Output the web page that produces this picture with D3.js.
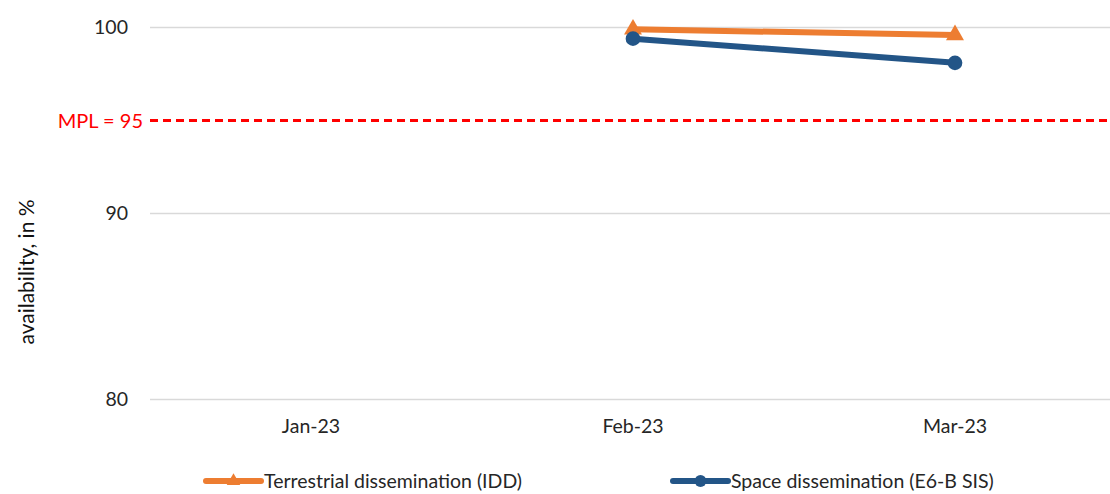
<!DOCTYPE html>
<html>
<head>
<meta charset="utf-8">
<script src="https://cdn.jsdelivr.net/npm/d3@7"></script>
<style>
  html, body { margin: 0; padding: 0; background: #fff; }
  svg { display: block; font-family: Lato, "Open Sans", sans-serif; }
</style>
</head>
<body>
<svg id="chart" width="1110" height="494"></svg>
<script>
// Monthly availability figures
const months = ["Jan-23", "Feb-23", "Mar-23"];
const terrestrial = [null, 99.9, 99.6];
const space = [null, 99.4, 98.1];
const yTicks = [80, 90, 100];
const mplValue = 95;
const seriesNames = ["Terrestrial dissemination (IDD)", "Space dissemination (E6-B SIS)"];

const svg = d3.select("#chart");
const W = 1110, H = 494;
const plot = { left: 150, right: 1116, top: 27.5, bottom: 399.5 };
const fontSize = 19.5;

const x = d3.scaleBand().domain(months).range([plot.left, plot.right]);
const y = d3.scaleLinear().domain([80, 100]).range([plot.bottom, plot.top]);

// Horizontal gridlines
svg.append("g")
  .selectAll("line")
  .data(yTicks)
  .join("line")
  .attr("x1", plot.left).attr("x2", W)
  .attr("y1", d => y(d)).attr("y2", d => y(d))
  .attr("stroke", "#d9d9d9").attr("stroke-width", 1.3);

// Y axis tick labels
const yAxis = d3.axisLeft(y).tickValues(yTicks).tickSize(0).tickPadding(22);
svg.append("g")
  .attr("transform", `translate(${plot.left},0)`)
  .call(yAxis)
  .call(g => g.select(".domain").remove())
  .call(g => g.selectAll("text")
    .attr("font-size", fontSize).attr("fill", "#262626")
    .attr("font-family", "Lato, 'Open Sans', sans-serif"));

// X axis labels
const xAxis = d3.axisBottom(x).tickSize(0).tickPadding(20);
svg.append("g")
  .attr("transform", `translate(0,${plot.bottom})`)
  .call(xAxis)
  .call(g => g.select(".domain").remove())
  .call(g => g.selectAll("text")
    .attr("font-size", fontSize).attr("fill", "#262626")
    .attr("font-family", "Lato, 'Open Sans', sans-serif"));

// Y axis title
svg.append("text")
  .attr("transform", `translate(34,${272}) rotate(-90)`)
  .attr("text-anchor", "middle")
  .attr("font-size", 21)
  .attr("fill", "#111")
  .text("availability, in %");

// Minimum performance level line
svg.append("line")
  .attr("x1", plot.left).attr("x2", W)
  .attr("y1", y(mplValue)).attr("y2", y(mplValue))
  .attr("stroke", "#ff0000").attr("stroke-width", 3)
  .attr("stroke-dasharray", "8,5");
svg.append("text")
  .attr("x", 143).attr("y", y(mplValue))
  .attr("dy", "0.35em")
  .attr("text-anchor", "end")
  .attr("font-size", 20)
  .attr("fill", "#ff0000")
  .text(`MPL = ${mplValue}`);

const cx = m => x(m) + x.bandwidth() / 2;
const line = d3.line()
  .defined(d => d.v != null)
  .x(d => cx(d.m))
  .y(d => y(d.v));

const series = [
  { name: seriesNames[0], values: terrestrial, color: "#ed7d31", symbol: d3.symbolTriangle, size: 140, legendSize: 80 },
  { name: seriesNames[1], values: space, color: "#235587", symbol: d3.symbolCircle, size: 170, legendSize: 110 }
];

series.forEach(s => {
  const pts = months.map((m, i) => ({ m, v: s.values[i] }));
  svg.append("path")
    .datum(pts)
    .attr("d", line)
    .attr("fill", "none")
    .attr("stroke", s.color)
    .attr("stroke-width", 6)
    .attr("stroke-linecap", "round");
  svg.append("g")
    .selectAll("path")
    .data(pts.filter(d => d.v != null))
    .join("path")
    .attr("transform", d => `translate(${cx(d.m)},${y(d.v)})`)
    .attr("d", d3.symbol(s.symbol, s.size))
    .attr("fill", s.color);
});

// Legend
const legendItems = [
  { s: series[0], x: 206 },
  { s: series[1], x: 673 }
];
const legend = svg.append("g");
legendItems.forEach(({ s, x: lx }) => {
  const g = legend.append("g").attr("transform", `translate(${lx},481)`);
  g.append("line")
    .attr("x1", 0).attr("x2", 55)
    .attr("stroke", s.color).attr("stroke-width", 6)
    .attr("stroke-linecap", "round");
  g.append("path")
    .attr("transform", "translate(27.5,0)")
    .attr("d", d3.symbol(s.symbol, s.legendSize))
    .attr("fill", s.color);
  g.append("text")
    .attr("x", 58).attr("dy", "0.35em")
    .attr("font-size", fontSize).attr("fill", "#262626")
    .text(s.name);
});
</script>
</body>
</html>
